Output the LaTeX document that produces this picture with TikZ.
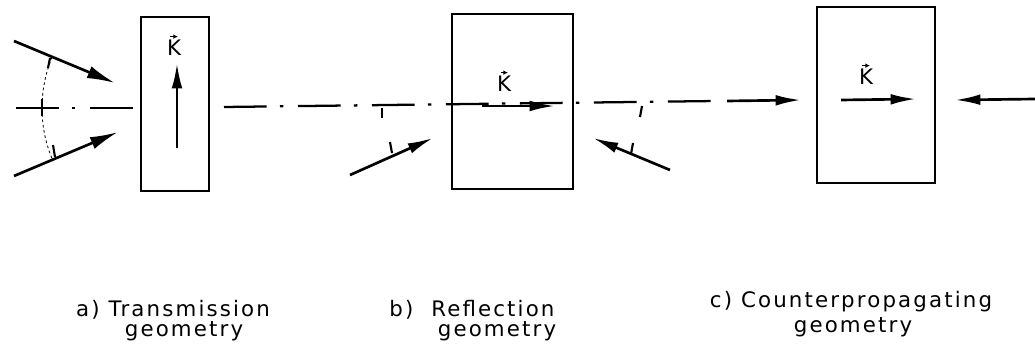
\documentclass[tikz,border=0pt]{standalone}
\usepackage{fontspec}
\setmainfont{DejaVu Sans}
\newfontfamily\labfont{DejaVu Sans}[LetterSpace=10]
\usetikzlibrary{arrows.meta}
\begin{document}
\begin{tikzpicture}[x=0.75pt,y=-0.75pt,
  ray/.style={line width=2pt,-{Latex[length=19pt,width=8pt]}},
  bigray/.style={line width=2pt,-{Latex[length=21pt,width=9.5pt]}},
  sample/.style={draw,line width=1.8pt,inner sep=0pt,outer sep=0pt},
  axisline/.style={line width=1.7pt,dash pattern=on 32pt off 10pt on 2.5pt off 11pt},
  arcline/.style={line width=0.6pt,dash pattern=on 2pt off 2pt},
  tickmark/.style={line width=1.6pt},
  kvec/.style={font=\fontsize{16}{16}\selectfont,inner sep=0pt},
  kacc/.style={line width=0.8pt,-{Latex[length=3.5pt,width=3.5pt]}},
  lab/.style={font=\labfont\fontsize{16}{18}\selectfont,inner sep=0pt,anchor=base}
]
\useasboundingbox (0,0) rectangle (1035,352);
% samples
\node[sample,minimum width=51pt,minimum height=130.5pt] (A) at (175,104) {};
\node[sample,minimum width=90.75pt,minimum height=131.25pt] (B) at (512.5,101.5) {};
\node[sample,minimum width=88.5pt,minimum height=132pt] (C) at (876,95) {};
% axis
\coordinate (ax0) at (16,108);
\coordinate (ax1) at (224,107);
\coordinate (ax2) at (716,101);
\draw[axisline] (ax0) -- (A.west |- ax0);
\draw[axisline] (ax1) -- (ax2);
% (a) transmission
\coordinate (fa) at (175,108);
\coordinate (a1) at (14,41);
\coordinate (a2) at (14,176);
\draw[bigray,shorten >=48.75pt] (a1) -- (fa);
\draw[bigray,shorten >=46.4pt] (a2) -- (fa);
\draw[arcline] (fa) ++(157.4:99.75pt) arc[start angle=157.4,end angle=202.6,radius=99.75pt];
\draw[tickmark] (50,58) -- (48,68);
\draw[tickmark] (42,99) -- (42,116);
\draw[tickmark] (53,145) -- (55,157);
\coordinate (ka0) at (177,148);
\coordinate (ka1) at (177,63);
\draw[ray] (ka0) -- (ka1);
\node[kvec] (KA) at (174,48) {K};
\draw[kacc] ([xshift=-3pt,yshift=2.5pt]KA.north) -- ([xshift=3pt,yshift=2.5pt]KA.north);
% (b) reflection
\coordinate (b1) at (350,175);
\coordinate (b1e) at (433,138);
\coordinate (b2) at (670,170);
\coordinate (b2e) at (593,138);
\draw[ray] (b1) -- (b1e);
\draw[ray] (b2) -- (b2e);
\draw[tickmark] (382,108) -- (382,118);
\draw[tickmark] (390,142) -- (392,153);
\draw[tickmark] (642,106) -- (640,117);
\draw[tickmark] (633,143) -- (631,154);
\coordinate (kb0) at (482,106);
\coordinate (kb1) at (555,106);
\draw[ray] (kb0) -- (kb1);
\node[kvec] (KB) at (504,84) {K};
\draw[kacc] ([xshift=-2pt,yshift=2.5pt]KB.north) -- ([xshift=3pt,yshift=2.5pt]KB.north);
% (c) counterpropagating
\coordinate (c1) at (727,101);
\coordinate (c1e) at (801,100);
\coordinate (c2) at (1035,99);
\coordinate (c2e) at (955,100);
\draw[ray] (c1) -- (c1e);
\draw[ray] (c2) -- (c2e);
\coordinate (kc0) at (841,100);
\coordinate (kc1) at (916,99);
\draw[ray] (kc0) -- (kc1);
\node[kvec] (KC) at (866,77) {K};
\draw[kacc] ([xshift=-3pt,yshift=2.5pt]KC.north) -- ([xshift=3pt,yshift=2.5pt]KC.north);
% labels
\node[lab] (la1) at (173,317) {a) Transmission};
\node[lab] (la2) at (184,337) {geometry};
\node[lab] (lb1) at (472,317) {b)\ \ Reflection};
\node[lab] (lb2) at (497,337) {geometry};
\node[lab] (lc1) at (851,308) {c) Counterpropagating};
\node[lab] (lc2) at (853,333) {geometry};
\end{tikzpicture}
\end{document}
